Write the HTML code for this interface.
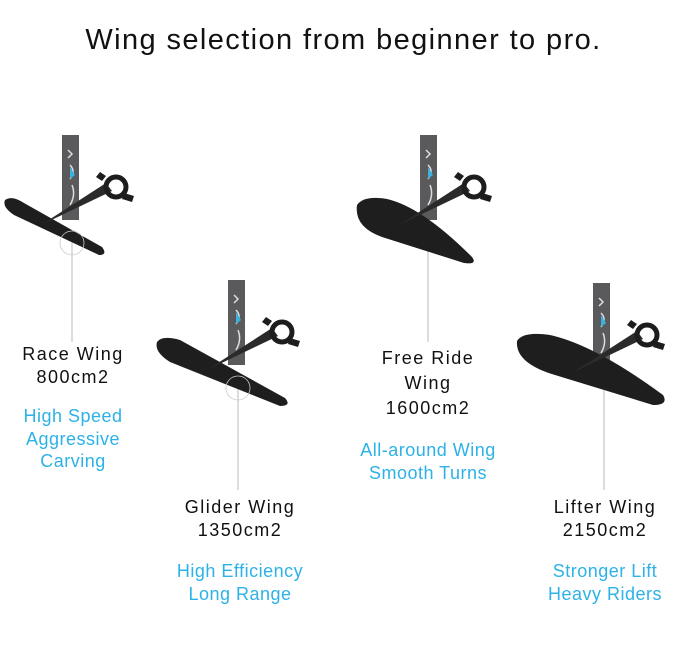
<!DOCTYPE html>
<html><head><style>
body{margin:0;width:687px;height:646px;background:#fff;position:relative;overflow:hidden;font-family:"Liberation Sans",sans-serif;}
.t{position:absolute;width:200px;text-align:center;font-size:18px;line-height:22.5px;letter-spacing:1.5px;color:#111;}
.b{color:#2cb2e6;letter-spacing:0.5px;}
h1{position:absolute;top:24px;left:0;width:687px;text-align:center;font-weight:normal;font-size:29px;letter-spacing:1.4px;margin:0;color:#111;}
</style></head><body>
<h1>Wing selection from beginner to pro.</h1>
<svg width="687" height="646" style="position:absolute;left:0;top:0">
<defs>
<g id="top">
<rect x="78" y="0" width="17" height="85" fill="#5a5a5c"/>
<path d="M84,15 l4,4 l-4,4 M86,30 q6,6 0,14 M88,50 q4,10 -2,20" stroke="#ddd" stroke-width="1.5" fill="none"/>
<path d="M86,32 l5,8 l-5,4z" fill="#3bb2de"/>
</g>
<g id="fus">
<path d="M57,90 L122,48 L128,56 Z" fill="#2a2a2a"/>
<circle cx="132" cy="52" r="10" fill="none" stroke="#1d1d1d" stroke-width="5"/>
<path d="M118,46 l-6,-4 l4,-5 l6,4z M140,58 l10,3 l-2,6 l-10,-3z" fill="#1d1d1d"/>
</g>
</defs>
<line x1="72" y1="232" x2="72" y2="342" stroke="#bbb"/>
<line x1="238" y1="375" x2="238" y2="490" stroke="#bbb"/>
<line x1="428" y1="245" x2="428" y2="342" stroke="#bbb"/>
<line x1="604" y1="390" x2="604" y2="490" stroke="#bbb"/>
<g transform="translate(-16,135)">
<use href="#top"/>
<path d="M21,65 Q28,60 40,68 L118,112 Q124,120 115,120 L30,80 Q18,72 21,65Z" fill="#1e1e1e"/>
<circle cx="88" cy="108" r="12" fill="none" stroke="#ccc" stroke-width="0.8"/>
<use href="#fus"/>
</g>
<g transform="translate(150,280)">
<use href="#top"/>
<path d="M7,62 Q12,55 30,60 L135,118 Q142,126 130,126 L20,82 Q4,72 7,62Z" fill="#1e1e1e"/>
<circle cx="88" cy="108" r="12" fill="none" stroke="#ccc" stroke-width="0.8"/>
<use href="#fus"/>
</g>
<g transform="translate(342,135)">
<use href="#top"/>
<path d="M15,70 Q22,60 45,64 Q80,72 130,122 Q136,130 122,128 L40,102 Q12,92 15,70Z" fill="#1e1e1e"/>
<use href="#fus"/>
</g>
<g transform="translate(515,283)">
<use href="#top"/>
<path d="M2,58 Q8,48 35,52 Q80,62 148,112 Q154,122 138,122 L40,92 Q0,80 2,58Z" fill="#1e1e1e"/>
<use href="#fus"/>
</g>
</svg>
<div class="t" style="left:-27px;top:343px">Race Wing<br>800cm2</div>
<div class="t b" style="left:-27px;top:405px">High Speed<br>Aggressive<br>Carving</div>
<div class="t" style="left:140px;top:496px">Glider Wing<br>1350cm2</div>
<div class="t b" style="left:140px;top:560px">High Efficiency<br>Long Range</div>
<div class="t" style="left:328px;top:346px;line-height:25px">Free Ride<br>Wing<br>1600cm2</div>
<div class="t b" style="left:328px;top:439px">All-around Wing<br>Smooth Turns</div>
<div class="t" style="left:505px;top:496px">Lifter Wing<br>2150cm2</div>
<div class="t b" style="left:505px;top:560px">Stronger Lift<br>Heavy Riders</div>
</body></html>
